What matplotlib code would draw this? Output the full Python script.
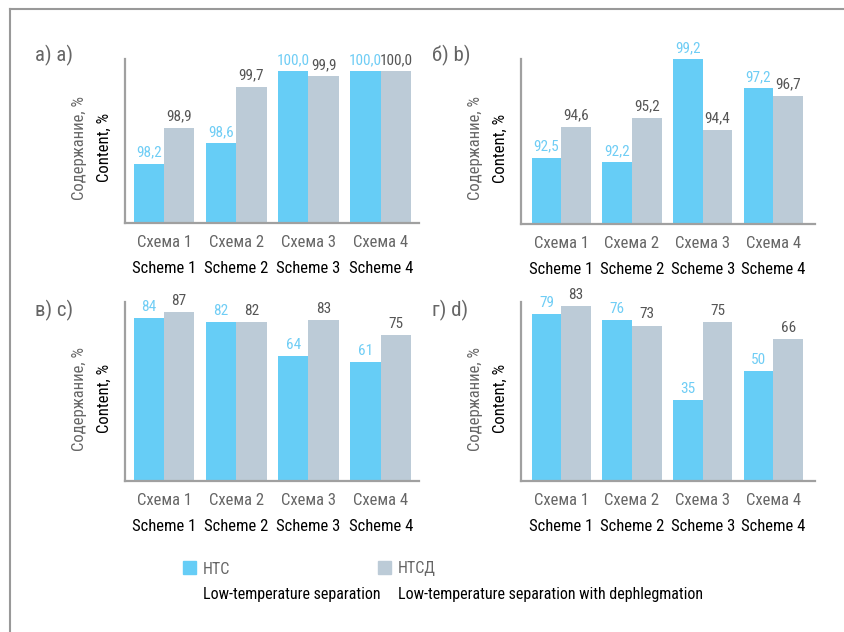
import matplotlib
matplotlib.use("Agg")
import matplotlib.pyplot as plt
from matplotlib import font_manager
from matplotlib.ft2font import FT2Font
from matplotlib.lines import Line2D
from matplotlib.patches import Rectangle

# narrow font that also has Cyrillic
narrow = set()
for f in font_manager.fontManager.ttflist:
    if 'Condensed' in f.name or 'Narrow' in f.name:
        try:
            if 0x0421 in FT2Font(f.fname).get_charmap():
                narrow.add(f.name)
        except Exception:
            pass
pref = ['Roboto Condensed', 'Fira Sans Extra Condensed', 'Fira Sans Condensed',
        'PT Sans Narrow', 'IBM Plex Sans Condensed', 'Open Sans Condensed',
        'Ubuntu Condensed', 'Noto Sans Condensed']
fam = next((p for p in pref if p in narrow), None)
if fam is None:
    fam = sorted(narrow)[0] if narrow else 'DejaVu Sans'
plt.rcParams['font.family'] = [fam, 'DejaVu Sans']
plt.rcParams['font.stretch'] = 'condensed'

schemes_ru = ['Схема 1', 'Схема 2', 'Схема 3', 'Схема 4']
schemes_en = ['Scheme 1', 'Scheme 2', 'Scheme 3', 'Scheme 4']

# НТС / НТСД values per panel
nts_a = [98.2, 98.6, 100.0, 100.0]
ntsd_a = [98.9, 99.7, 99.9, 100.0]
nts_b = [92.5, 92.2, 99.2, 97.2]
ntsd_b = [94.6, 95.2, 94.4, 96.7]
nts_c = [84, 82, 64, 61]
ntsd_c = [87, 82, 83, 75]
nts_d = [79, 76, 35, 50]
ntsd_d = [83, 73, 75, 66]

labels_a = (['98,2', '98,6', '100,0', '100,0'], ['98,9', '99,7', '99,9', '100,0'])
labels_b = (['92,5', '92,2', '99,2', '97,2'], ['94,6', '95,2', '94,4', '96,7'])
labels_c = (['84', '82', '64', '61'], ['87', '82', '83', '75'])
labels_d = (['79', '76', '35', '50'], ['83', '73', '75', '66'])

panel_titles = ['а) a)', 'б) b)', 'в) c)', 'г) d)']

BLUE = '#66cdf6'
GREY = '#bccbd7'
BLUE_TXT = '#6fcdf5'
DARK = '#555555'
AX = '#a0a0a0'

W, H = 845, 632
fig = plt.figure(figsize=(W / 100, H / 100), dpi=100)

def frac(x0, y_top, x1, y_bot):
    return [x0 / W, 1 - y_bot / H, (x1 - x0) / W, (y_bot - y_top) / H]

panels = [
    (frac(125, 59, 419, 223), nts_a, ntsd_a, labels_a, (97.04, 100.24), (-0.54, 3.53), (35, 55)),
    (frac(521, 59, 815, 224), nts_b, ntsd_b, labels_b, (88.0, 99.2), (-0.57, 3.59), (432, 55)),
    (frac(125, 302, 419, 481), nts_c, ntsd_c, labels_c, (-1.3, 92.4), (-0.54, 3.53), (35, 310)),
    (frac(521, 302, 815, 481), nts_d, ntsd_d, labels_d, (-6.0, 85.0), (-0.57, 3.59), (432, 310)),
]

x = list(range(4))
bw = 0.42
for i, (rect, v1, v2, labs, ylim, xlim, tpos) in enumerate(panels):
    ax = fig.add_axes(rect)
    y0 = ylim[0]
    ax.bar([p - bw / 2 for p in x], [v - y0 for v in v1], bw, bottom=y0, color=BLUE)
    ax.bar([p + bw / 2 for p in x], [v - y0 for v in v2], bw, bottom=y0, color=GREY)
    ax.set_ylim(*ylim)
    ax.set_xlim(*xlim)
    for s in ['top', 'right']:
        ax.spines[s].set_visible(False)
    for s in ['left', 'bottom']:
        ax.spines[s].set_color(AX)
        ax.spines[s].set_linewidth(1.6)
    ax.set_yticks([])
    ax.set_xticks([])
    for j in range(4):
        ax.annotate(labs[0][j], (x[j] - bw / 2, v1[j]), xytext=(0, 3),
                    textcoords='offset points', ha='center', va='bottom',
                    fontsize=11, color=BLUE_TXT)
        ax.annotate(labs[1][j], (x[j] + bw / 2, v2[j]), xytext=(0, 3),
                    textcoords='offset points', ha='center', va='bottom',
                    fontsize=11, color=DARK)
        ax.annotate(schemes_ru[j], (x[j], 0), xycoords=('data', 'axes fraction'),
                    xytext=(0, -14), textcoords='offset points', ha='center',
                    va='center', fontsize=12, color='#666666')
        ax.annotate(schemes_en[j], (x[j], 0), xycoords=('data', 'axes fraction'),
                    xytext=(0, -32.5), textcoords='offset points', ha='center',
                    va='center', fontsize=12, color='black')
    ax.annotate('Содержание, %', (0, 0.46), xycoords='axes fraction',
                xytext=(-33, 0), textcoords='offset points', rotation=90,
                ha='center', va='center', fontsize=12, color='#666666')
    ax.annotate('Content, %', (0, 0.46), xycoords='axes fraction',
                xytext=(-15, 0), textcoords='offset points', rotation=90,
                ha='center', va='center', fontsize=12, color='black')
    fig.text(tpos[0] / W, 1 - tpos[1] / H, panel_titles[i], fontsize=15,
             color='#666666', ha='left', va='center')

# legend
for sx, c, t1, t2 in [(183, BLUE, 'НТС', 'Low-temperature separation'),
                      (378, GREY, 'НТСД', 'Low-temperature separation with dephlegmation')]:
    fig.add_artist(Rectangle((sx / W, 1 - 574 / H), 13 / W, 13 / H,
                             transform=fig.transFigure, color=c))
    fig.text((sx + 20) / W, 1 - 569 / H, t1, fontsize=11.5, color='#666666',
             ha='left', va='center')
    fig.text((sx + 20) / W, 1 - 594 / H, t2, fontsize=11.5, color='black',
             ha='left', va='center')

# frame
fig.add_artist(Line2D([10 / W, 10 / W], [0, 1 - 9 / H], color='#999999', lw=1.5,
                      transform=fig.transFigure))
fig.add_artist(Line2D([10 / W, 1], [1 - 9 / H, 1 - 9 / H], color='#999999', lw=1.5,
                      transform=fig.transFigure))

fig.savefig('out.png', dpi=100, facecolor='white')
